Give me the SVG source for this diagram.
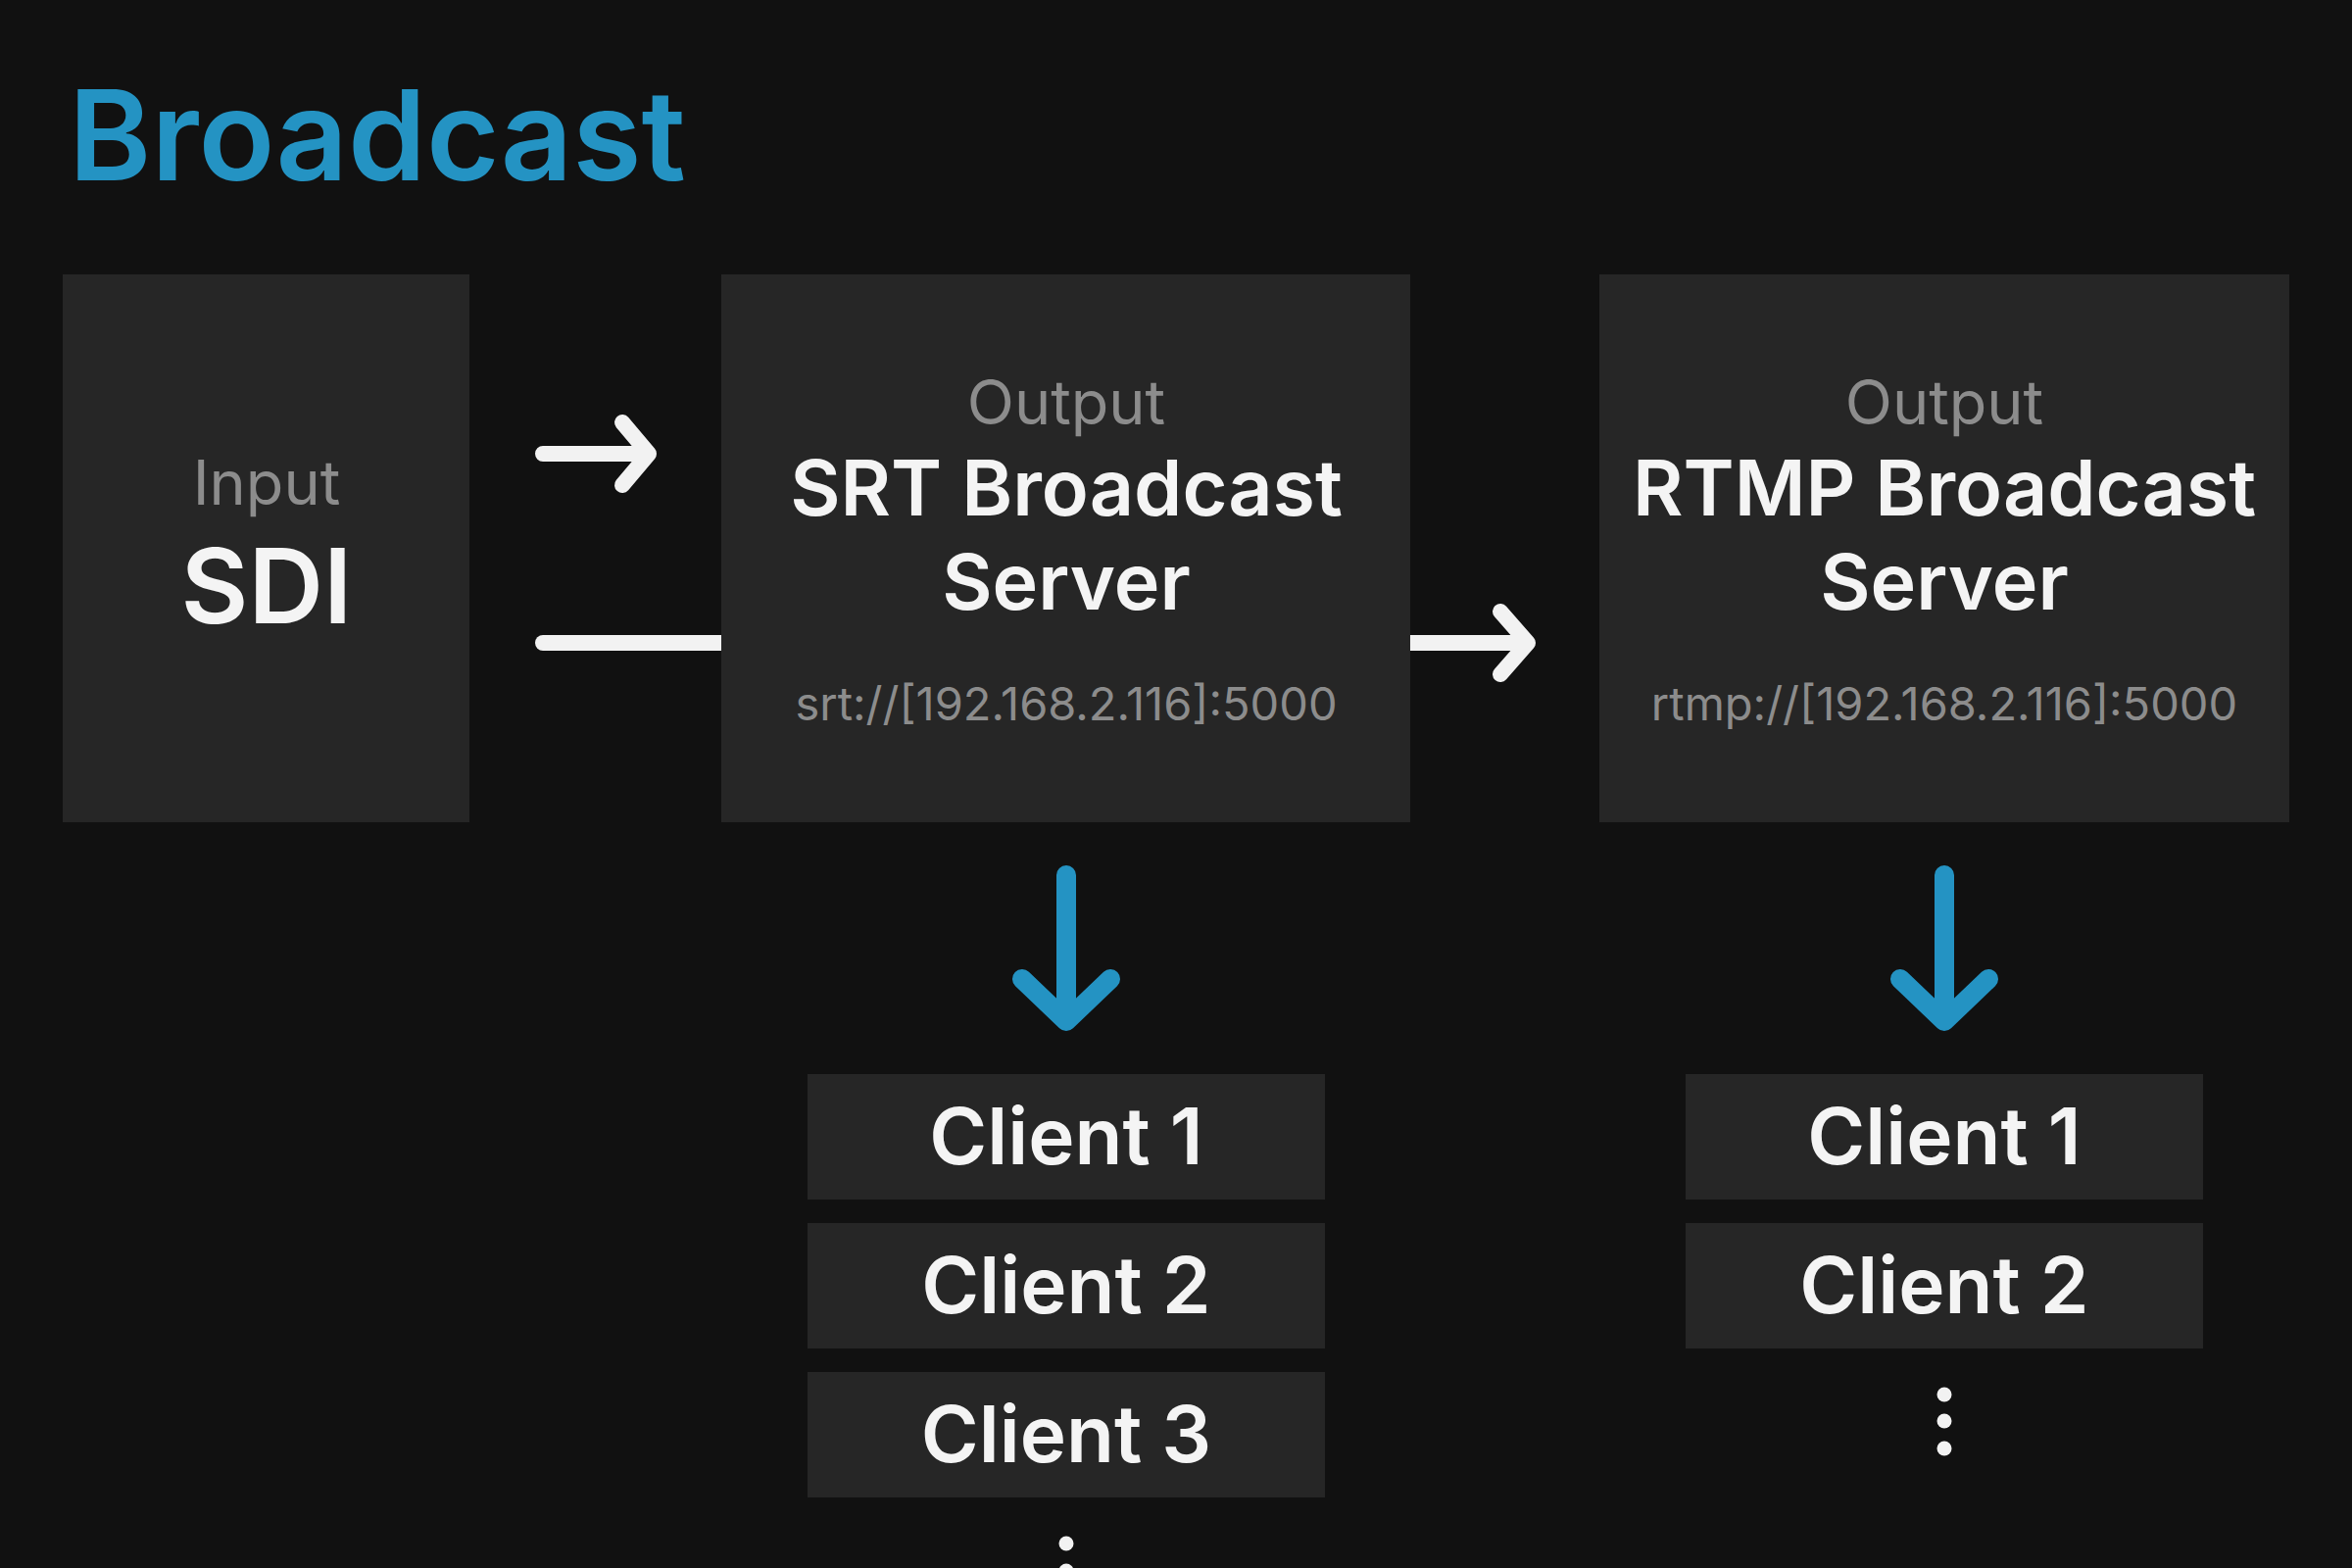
<svg xmlns="http://www.w3.org/2000/svg" width="2400" height="1600" viewBox="0 0 2400 1600">
<style>
.box{fill:#262626}
.t{font-family:Inter,"Noto Sans","Liberation Sans",sans-serif;text-anchor:middle}
.lbl{fill:#8c8c8c;font-weight:400}
.main{fill:#f4f4f4;font-weight:600}
.url{fill:#8c8c8c;font-weight:400;font-size:47px}
.cl{fill:#f4f4f4;font-weight:600;font-size:80px}
.wl{stroke:#f2f2f2;stroke-width:16;fill:none;stroke-linecap:round;stroke-linejoin:round}
.wb{stroke:#f2f2f2;stroke-width:16;fill:none;stroke-linecap:butt}
.bl{stroke:#2493c3;stroke-width:20;fill:none;stroke-linecap:round;stroke-linejoin:round}
.dot{fill:#f2f2f2}
</style>
<rect width="2400" height="1600" fill="#111111"/>
<text x="70" y="184" class="t" style="text-anchor:start;font-size:128px;font-weight:600;fill:#2493c3">Broadcast</text>

<g id="input">
<rect class="box" x="64" y="280" width="415" height="559"/>
<text x="272" y="515" class="t lbl" font-size="63">Input</text>
<text x="272" y="636" class="t main" font-size="106">SDI</text>
</g>

<g id="srt">
<rect class="box" x="736" y="280" width="703" height="559"/>
<text x="1088" y="433" class="t lbl" font-size="63">Output</text>
<text x="1088" y="526" class="t main" font-size="79">SRT Broadcast</text>
<text x="1088" y="622" class="t main" font-size="79">Server</text>
<text x="1088" y="735" class="t url">srt://[192.168.2.116]:5000</text>
</g>

<g id="rtmp">
<rect class="box" x="1632" y="280" width="704" height="559"/>
<text x="1984" y="433" class="t lbl" font-size="63">Output</text>
<text x="1984" y="526" class="t main" font-size="79">RTMP Broadcast</text>
<text x="1984" y="622" class="t main" font-size="79">Server</text>
<text x="1984" y="735" class="t url">rtmp://[192.168.2.116]:5000</text>
</g>

<g id="srt-client1"><rect class="box" x="824" y="1096" width="528" height="128"/><text x="1088" y="1188" class="t cl">Client 1</text></g>
<g id="srt-client2"><rect class="box" x="824" y="1248" width="528" height="128"/><text x="1088" y="1340" class="t cl">Client 2</text></g>
<g id="srt-client3"><rect class="box" x="824" y="1400" width="528" height="128"/><text x="1088" y="1492" class="t cl">Client 3</text></g>
<g id="srt-more"><circle class="dot" cx="1088" cy="1575" r="7.5"/><circle class="dot" cx="1088" cy="1603" r="7.5"/></g>

<g id="rtmp-client1"><rect class="box" x="1720" y="1096" width="528" height="128"/><text x="1984" y="1188" class="t cl">Client 1</text></g>
<g id="rtmp-client2"><rect class="box" x="1720" y="1248" width="528" height="128"/><text x="1984" y="1340" class="t cl">Client 2</text></g>
<g id="rtmp-more"><circle class="dot" cx="1984" cy="1423" r="7.5"/><circle class="dot" cx="1984" cy="1450" r="7.5"/><circle class="dot" cx="1984" cy="1478" r="7.5"/></g>

<g id="connectors">
<path class="wl" d="M554 463 H662 M635 431 L662 463 L635 495"/>
<path class="wb" d="M554 656 H736"/>
<circle cx="554" cy="656" r="8" fill="#f2f2f2"/>
<path class="wb" d="M1439 656 H1556"/>
<path class="wl" d="M1531 624 L1559 656 L1531 688 M1550 656 H1558"/>
<path class="bl" d="M1088 893 V1042 M1043 999 L1088 1042 L1133 999"/>
<path class="bl" d="M1984 893 V1042 M1939 999 L1984 1042 L2029 999"/>
</g>
</svg>
